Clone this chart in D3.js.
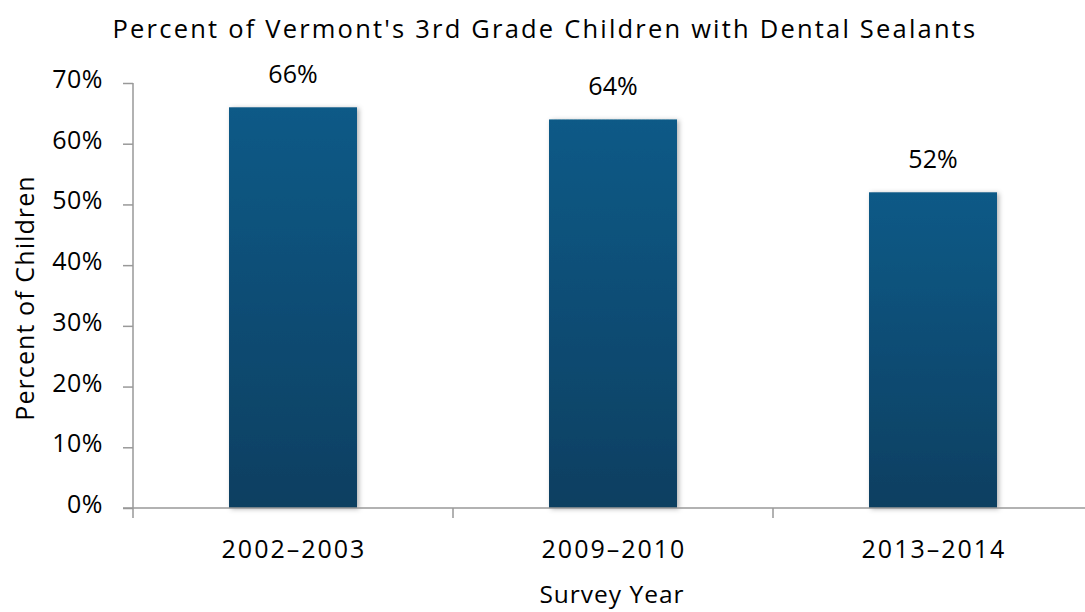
<!DOCTYPE html>
<html>
<head>
<meta charset="utf-8">
<script src="https://cdn.jsdelivr.net/npm/d3@7"></script>
<style>
  body { margin: 0; background: #fff; }
  text { font-family: "Open Sans", "DejaVu Sans", sans-serif; fill: #000; }
</style>
</head>
<body>
<div id="chart"></div>
<script>
var categories = ["2002\u20132003", "2009\u20132010", "2013\u20132014"];
var values = [66, 64, 52];
var yTicks = [0, 10, 20, 30, 40, 50, 60, 70];

drawChart();

function drawChart() {
  var svg = d3.select("#chart")
              .append("svg")
              .attr("width", 1085)
              .attr("height", 612);

  var margin = {top: 83, right: -8, bottom: 104, left: 133},
      width = +svg.attr("width") - margin.left - margin.right,
      height = +svg.attr("height") - margin.top - margin.bottom;

  var x = d3.scaleBand().domain(categories).range([0, width]).paddingInner(0.6).paddingOuter(0.3),
      y = d3.scaleLinear().domain([0, 70]).range([height, 0]);

  var defs = svg.append("defs");
  var grad = defs.append("linearGradient")
      .attr("id", "barGrad")
      .attr("x1", 0).attr("y1", 0).attr("x2", 0).attr("y2", 1);
  grad.append("stop").attr("offset", "0%").attr("stop-color", "#0b5a87");
  grad.append("stop").attr("offset", "100%").attr("stop-color", "#083f61");

  var shadow = defs.append("filter").attr("id", "shadow")
      .attr("x", "-10%").attr("y", "-10%").attr("width", "130%").attr("height", "130%");
  shadow.append("feDropShadow")
      .attr("dx", 2).attr("dy", 1).attr("stdDeviation", 2.5)
      .attr("flood-color", "#000").attr("flood-opacity", 0.3);

  // Title
  svg.append("text")
      .attr("x", 545).attr("y", 38)
      .attr("text-anchor", "middle")
      .attr("font-size", "25.5px")
      .attr("letter-spacing", "2.2px")
      .text("Percent of Vermont's 3rd Grade Children with Dental Sealants");

  var g = svg.append("g")
      .attr("transform", "translate(" + margin.left + "," + margin.top + ")");

  // Bars
  g.selectAll(".bar")
    .data(values)
    .enter()
    .append("rect")
    .attr("class", "bar")
    .attr("x", function(d, i) { return x(categories[i]); })
    .attr("y", function(d) { return y(d); })
    .attr("width", x.bandwidth())
    .attr("height", function(d) { return height - y(d); })
    .attr("filter", "url(#shadow)")
    .style("fill", "url(#barGrad)");

  // Value labels
  g.selectAll(".bartext")
    .data(values)
    .enter()
    .append("text")
    .attr("x", function(d, i) { return x(categories[i]) + x.bandwidth() / 2; })
    .attr("y", function(d) { return y(d) - 24; })
    .attr("text-anchor", "middle")
    .attr("font-size", "25px")
    .text(function(d) { return d + "%"; });

  // Y axis
  var yAxis = g.append("g")
      .attr("class", "axis axis--y")
      .call(d3.axisLeft(y).tickValues(yTicks).tickSize(10).tickPadding(20)
            .tickFormat(function(d) { return d + "%"; }));
  yAxis.select(".domain").attr("stroke", "#999").attr("stroke-width", 1.5).attr("d", "M0," + height + "V0");
  yAxis.selectAll(".tick line").attr("stroke", "#999").attr("stroke-width", 1.5);
  yAxis.selectAll("text").attr("font-size", "25px").attr("fill", "#000")
       .attr("dy", "0.18em")
       .attr("letter-spacing", "0.5px")
       .style("font-family", "'Open Sans', 'DejaVu Sans', sans-serif");

  // X axis: ticks between categories
  var step = x.step();
  var start = x(categories[0]) - x.paddingOuter() * step;
  var xAxis = g.append("g")
      .attr("class", "axis axis--x")
      .attr("transform", "translate(0," + height + ")");
  xAxis.append("line")
      .attr("x1", -10).attr("x2", width)
      .attr("stroke", "#999").attr("stroke-width", 1.5);
  xAxis.selectAll(".xtick")
    .data(d3.range(categories.length + 1))
    .enter()
    .append("line")
    .attr("x1", function(i) { return start + i * step; })
    .attr("x2", function(i) { return start + i * step; })
    .attr("y1", 0).attr("y2", 10)
    .attr("stroke", "#999").attr("stroke-width", 1.5);
  xAxis.selectAll(".xlabel")
    .data(categories)
    .enter()
    .append("text")
    .attr("x", function(d) { return x(d) + x.bandwidth() / 2 + 1; })
    .attr("y", 50)
    .attr("text-anchor", "middle")
    .attr("font-size", "25px")
    .attr("letter-spacing", "2px")
    .text(function(d) { return d; });

  // Axis titles
  svg.append("text")
      .attr("x", 612).attr("y", 603)
      .attr("text-anchor", "middle")
      .attr("font-size", "24.5px")
      .attr("letter-spacing", "1px")
      .text("Survey Year");

  svg.append("text")
      .attr("transform", "translate(34,298) rotate(-90)")
      .attr("text-anchor", "middle")
      .attr("font-size", "25px")
      .attr("letter-spacing", "1.1px")
      .text("Percent of Children");
}
</script>
</body>
</html>
